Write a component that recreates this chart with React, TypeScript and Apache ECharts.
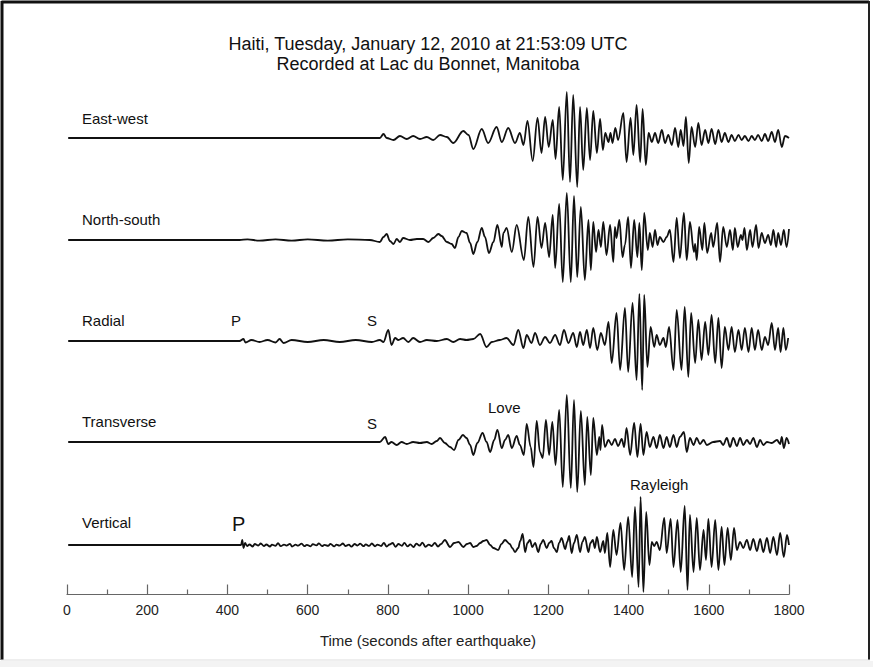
import React, { useEffect, useRef } from "react";
import * as echarts from "echarts";

const titleLines = ["Haiti, Tuesday, January 12, 2010 at 21:53:09 UTC", "Recorded at Lac du Bonnet, Manitoba"];
const traceNames = ["East-west", "North-south", "Radial", "Transverse", "Vertical"];
const axisTitle = "Time (seconds after earthquake)";

// [seconds after earthquake, relative amplitude]
const eastWest: [number, number][] = [
  [3, 0], [200, 0], [400, 0], [600, 0], [770, 0], [780, 0], [789, 4], [797, 0], [814, -2], [830, 2], [847, -1], [863, 2],
  [880, -1], [897, 1], [913, -2], [930, 3], [947, 1], [963, -5], [988, 7], [1001, 3], [1013, -11], [1034, 9], [1050, -5],
  [1071, 11], [1084, -4], [1100, 10], [1117, -5], [1129, 5], [1138, -7], [1148, 17], [1161, -23], [1173, 20], [1183, -15],
  [1192, 21], [1201, -9], [1211, 18], [1218, -21], [1227, 31], [1236, -42], [1246, 46], [1254, -44], [1262, 43], [1272, -49],
  [1279, 31], [1287, -32], [1296, 30], [1304, -22], [1312, 27], [1321, -15], [1329, 19], [1336, -12], [1342, 5], [1350, -4],
  [1355, 5], [1360, -5], [1367, 10], [1374, -2], [1387, 25], [1395, -24], [1405, 20], [1412, -17], [1420, 33], [1429, -24],
  [1435, 29], [1443, -27], [1450, 5], [1458, -4], [1466, 5], [1474, -5], [1483, 8], [1491, -5], [1499, 3], [1508, -7],
  [1516, 10], [1524, -9], [1530, 8], [1537, -8], [1543, 21], [1550, -25], [1557, 11], [1566, -9], [1574, 15], [1582, -7],
  [1591, 8], [1599, -5], [1607, 9], [1616, -6], [1624, 8], [1632, -4], [1640, 5], [1649, -4], [1657, 3], [1665, -3],
  [1674, 3], [1682, -2], [1690, 2], [1699, -3], [1707, 2], [1715, -2], [1723, 3], [1732, -3], [1740, 4], [1748, -3],
  [1757, 6], [1765, -4], [1773, 8], [1782, -9], [1790, 2], [1800, 0],
];

const northSouth: [number, number][] = [
  [3, 0], [430, 0], [450, 0.6], [480, -0.6], [520, 0.6], [560, -0.6], [600, 0.6], [650, -0.6], [700, 0.6], [755, 0], [780, -2], [789, 3],
  [797, 6], [805, -1], [814, -4], [822, 1], [830, -2], [838, 2], [855, 0], [872, 1], [888, 1], [901, -2], [913, 2], [926, 6],
  [934, 4], [947, -2], [959, -4], [967, -8], [976, 3], [984, 9], [996, 7], [1005, -3], [1013, -14], [1023, -2], [1034, 12],
  [1042, 3], [1052, -13], [1063, -2], [1073, 15], [1084, -7], [1088, 7], [1096, 12], [1109, -12], [1121, 15], [1139, -20],
  [1150, 23], [1163, -27], [1173, 23], [1183, -8], [1192, 17], [1202, -17], [1211, 25], [1217, -28], [1227, 36], [1236, -42],
  [1246, 47], [1256, -42], [1264, 44], [1272, -37], [1281, 33], [1291, -40], [1300, 20], [1306, -30], [1312, 18], [1319, -12],
  [1325, 10], [1331, -7], [1337, 18], [1345, -15], [1354, 15], [1362, -22], [1366, 13], [1370, 2], [1377, 20], [1385, -17],
  [1391, -5], [1399, 23], [1406, -28], [1414, 20], [1422, -17], [1427, 17], [1433, -30], [1439, 27], [1448, -10], [1453, 7],
  [1460, -7], [1466, 10], [1472, -5], [1478, 3], [1487, -2], [1495, 3], [1503, 10], [1512, -22], [1520, 22], [1528, -18],
  [1538, 27], [1545, -20], [1553, 18], [1563, -12], [1566, -4], [1570, -20], [1576, 13], [1584, -10], [1589, 17], [1596, -13],
  [1606, 7], [1611, -7], [1621, 17], [1628, -22], [1636, 13], [1645, -7], [1653, 10], [1660, -10], [1665, 12], [1672, -7],
  [1680, 5], [1684, 0], [1689, 12], [1695, -10], [1703, 10], [1709, -7], [1718, 15], [1724, -8], [1732, 7], [1740, -3],
  [1748, 5], [1755, -5], [1761, 10], [1768, -7], [1773, 7], [1780, -5], [1787, 10], [1794, -7], [1800, 11],
];

const radial: [number, number][] = [
  [3, 0], [430, 0], [440, 2], [445, -1.5], [460, 1], [480, -1], [500, 1], [520, -1.5], [530, 2], [540, -2], [560, 1],
  [600, -1], [640, 1], [680, -1], [720, 1], [760, -1], [780, 1], [789, -1], [801, 11], [809, -4], [818, 3], [826, 1],
  [838, 3], [851, -1], [863, 3], [880, -1], [897, 1], [922, 0], [947, 2], [963, -1], [980, 2], [996, 1], [1013, 2],
  [1030, 7], [1046, -6], [1059, -1], [1079, 1], [1096, 3], [1113, -4], [1125, 11], [1138, -7], [1146, 6], [1158, -2],
  [1167, 8], [1179, -4], [1192, 4], [1204, -2], [1217, 6], [1229, -4], [1239, 11], [1250, -2], [1262, 8], [1271, -6],
  [1279, 9], [1287, -4], [1296, 11], [1304, -7], [1312, 13], [1322, -9], [1331, 8], [1341, -4], [1350, 19], [1358, -22],
  [1370, 28], [1379, -29], [1391, 33], [1399, -31], [1410, 38], [1420, -39], [1427, 47], [1434, -49], [1439, 46], [1447, -26],
  [1455, 14], [1464, -6], [1470, 6], [1478, -4], [1487, 3], [1493, -6], [1501, 14], [1512, -29], [1520, 31], [1532, -29],
  [1540, 34], [1549, -36], [1556, 28], [1566, -22], [1574, 21], [1582, -19], [1591, 19], [1599, -14], [1607, 26], [1616, -22],
  [1624, 23], [1632, -27], [1640, 14], [1649, -9], [1657, 14], [1665, -11], [1674, 11], [1682, -9], [1690, 13], [1699, -11],
  [1707, 13], [1715, -9], [1723, 11], [1732, -9], [1740, 4], [1748, -4], [1757, 18], [1765, -9], [1773, 13], [1779, -11],
  [1786, 13], [1792, -9], [1798, 3],
];

const transverse: [number, number][] = [
  [3, 0], [400, 0], [600, 0], [780, 0], [793, 5], [801, -2], [809, 0], [822, -3], [834, 0], [847, -2], [863, 0], [880, -1],
  [897, 0], [909, -2], [922, 1], [930, 4], [942, -1], [955, -5], [965, -8], [976, 2], [987, 7], [996, 4], [1005, -3],
  [1013, -13], [1023, -1], [1036, 9], [1046, 0], [1055, -10], [1065, 2], [1073, 12], [1084, -6], [1092, 2], [1100, 7],
  [1109, -6], [1121, 6], [1129, -3], [1139, -13], [1146, 18], [1156, -5], [1163, -25], [1171, 21], [1179, -10], [1186, -16],
  [1194, 22], [1202, -13], [1210, 20], [1218, -23], [1227, 32], [1236, -45], [1246, 47], [1256, -46], [1264, 42], [1272, -50],
  [1281, 31], [1291, -43], [1297, 25], [1306, -33], [1312, 24], [1321, -13], [1327, 5], [1330, -8], [1334, 17], [1341, -5],
  [1350, 2], [1358, -3], [1366, 3], [1374, -4], [1383, 3], [1389, -5], [1395, 14], [1404, -13], [1414, 19], [1422, -15],
  [1430, 18], [1437, -13], [1445, 10], [1453, -5], [1462, 5], [1470, -6], [1478, 7], [1487, -6], [1495, 5], [1503, -5],
  [1512, 7], [1520, -5], [1528, 5], [1538, 10], [1545, -10], [1553, 4], [1562, -3], [1570, 4], [1578, -2], [1587, 2],
  [1595, -3], [1611, 0], [1628, 1], [1636, -3], [1645, 4], [1653, -5], [1661, 4], [1670, -4], [1678, 4], [1686, -3],
  [1695, 2], [1703, -2], [1711, 4], [1720, -5], [1728, 2], [1736, -3], [1745, 0], [1757, -1], [1770, 2], [1778, -2],
  [1782, 5], [1787, -6], [1794, 4], [1800, -2],
];

const vertical: [number, number][] = [
  [3, 0], [200, 0], [434, 0], [437, 5], [440, -3], [444, 2], [449, -1], [455, 0.5], [463, -1.5], [468, 1], [477, -0.5],
  [483, 1.5], [491, -1], [497, 0.5], [506, -1.5], [511, 0.3], [520, -0.8], [526, 1.8], [533, -1.2], [541, 0.4], [547, -0.6],
  [556, 1.2], [561, -1.6], [570, 0.3], [576, -0.7], [585, 1.4], [592, -1.2], [598, 0.2], [607, -1.3], [613, 0.9], [622, -0.4],
  [628, 1.6], [636, -1.1], [642, 0.2], [651, -0.9], [657, 1.1], [666, -1.4], [672, 0.4], [679, -0.6], [688, 1.5], [694, -1],
  [703, 0.3], [709, -1.7], [717, 1], [724, -0.5], [731, 1.3], [739, -1.2], [745, 0.6], [753, -0.9], [760, 1.5], [768, -1.3],
  [774, 0.4], [783, -1], [790, 2], [797, -1.5], [804, 0.5], [812, 2], [819, -1.8], [826, 1], [835, -0.8], [841, 2.2],
  [849, -1.4], [856, 0.6], [864, -2], [871, 1.4], [879, -0.6], [886, 2.3], [894, -1.8], [902, 0.4], [909, -1], [917, 2],
  [925, -1.5], [932, 0.8], [942, 5], [955, -2], [965, 2], [976, 3], [988, -2], [997, 1], [1005, 2], [1013, -2], [1021, -1],
  [1030, 2], [1038, 4], [1046, 5], [1055, 0], [1063, -3], [1075, -5], [1083, 1], [1092, 5], [1104, 1], [1110, -3],
  [1117, -7], [1125, -3], [1130, 4], [1136, 11], [1142, -7], [1148, 2], [1154, 5], [1160, -2], [1167, 2], [1175, -7],
  [1181, 1], [1187, 5], [1196, -3], [1202, 2], [1208, 4], [1214, -3], [1221, -7], [1227, 2], [1233, 7], [1242, -4],
  [1247, 3], [1252, 9], [1258, -8], [1264, 2], [1271, 10], [1279, -7], [1285, 3], [1291, 8], [1300, -7], [1305, 2],
  [1311, 5], [1316, -3], [1321, 8], [1329, -7], [1337, 4], [1341, -8], [1347, 12], [1354, -22], [1362, 15], [1370, -10],
  [1380, 22], [1389, -25], [1399, 28], [1409, -32], [1416, 38], [1425, -42], [1430, 48], [1437, -47], [1444, 33],
  [1452, -20], [1458, 3], [1464, -1], [1470, 3], [1478, -5], [1489, 27], [1495, -8], [1505, 26], [1512, -22], [1522, 25],
  [1530, -27], [1540, 39], [1547, -45], [1553, 30], [1562, -27], [1570, 27], [1578, -25], [1587, 15], [1593, -15],
  [1599, 26], [1607, -22], [1616, 25], [1624, -25], [1632, 18], [1639, -20], [1647, 17], [1655, -15], [1663, 17],
  [1670, -5], [1678, 3], [1686, -3], [1695, 5], [1703, -5], [1711, 6], [1720, -6], [1728, 6], [1736, -7], [1745, 7],
  [1753, -8], [1761, 8], [1770, -10], [1778, 12], [1787, -12], [1795, 10], [1800, 0],
];

const traces = [eastWest, northSouth, radial, transverse, vertical];

const FONT = "'Liberation Sans', Arial, Helvetica, sans-serif";

export default function App() {
  const ref = useRef<HTMLDivElement>(null);

  useEffect(() => {
    if (!ref.current) return;
    const chart = echarts.init(ref.current, null, { renderer: "svg" });
    const baselines = [138, 240, 341, 442, 545];
    const span = 60;
    const left = 67;
    const width = 722;

    const grids: any[] = baselines.map((b) => ({ left, width, top: b - span, height: span * 2 }));
    grids.push({ left, width, top: 594, height: 1 });

    const xAxes: any[] = baselines.map((_, i) => ({
      type: "value", gridIndex: i, min: 0, max: 1800, show: false,
    }));
    xAxes.push({
      type: "value", gridIndex: 5, min: 0, max: 1800, interval: 200, position: "bottom",
      axisLine: { show: true, lineStyle: { color: "#666", width: 1.2 } },
      axisTick: { show: true, inside: true, length: 10, lineStyle: { color: "#666", width: 1.2 } },
      minorTick: { show: true, splitNumber: 2, length: 5, lineStyle: { color: "#666", width: 1.2 } },
      splitLine: { show: false },
      axisLabel: {
        fontSize: 14, color: "#222", margin: 8, fontFamily: FONT,
        formatter: (v: number) => String(v),
      },
      name: axisTitle, nameLocation: "middle", nameGap: 38,
      nameTextStyle: { fontSize: 15, color: "#222", fontFamily: FONT },
    });
    const yAxes: any[] = grids.map((_, i) => ({
      type: "value", gridIndex: i, min: -span, max: span, show: false,
    }));

    const series: any[] = traces.map((d, i) => ({
      type: "line", xAxisIndex: i, yAxisIndex: i, data: d, showSymbol: false, clip: false,
      smooth: 0.35, smoothMonotone: "x",
      lineStyle: { color: "#111", width: 1.8, join: "round" }, silent: true,
    }));
    series.push({ type: "line", xAxisIndex: 5, yAxisIndex: 5, data: [], showSymbol: false });

    const txt = (text: string, x: number, y: number, size: number, align = "left") => ({
      type: "text", x, y, silent: true,
      style: { text, font: `${size}px ${FONT}`, fill: "#111", textAlign: align, textVerticalAlign: "middle" },
    });

    const labelY = [118, 219, 320, 421, 522];
    const graphic: any[] = [
      { type: "rect", shape: { x: 0, y: 661, width: 873, height: 6 }, style: { fill: "#f3f3f3" }, silent: true },
      { type: "line", shape: { x1: 1.5, y1: 2, x2: 869, y2: 2 }, style: { stroke: "#111", lineWidth: 3 }, silent: true },
      { type: "line", shape: { x1: 2, y1: 1, x2: 2, y2: 660 }, style: { stroke: "#111", lineWidth: 3 }, silent: true },
      { type: "line", shape: { x1: 869, y1: 1, x2: 869, y2: 660 }, style: { stroke: "#222", lineWidth: 2 }, silent: true },
      { type: "line", shape: { x1: 1, y1: 660, x2: 870, y2: 660 }, style: { stroke: "#ddd", lineWidth: 1 }, silent: true },
      txt(titleLines[0], 428, 44, 18, "center"),
      txt(titleLines[1], 428, 64, 18, "center"),
      ...traceNames.map((n, i) => txt(n, 82, labelY[i], 15)),
      txt("P", 231, 320, 15),
      txt("S", 367, 320, 15),
      txt("S", 367, 423, 15),
      txt("Love", 488, 407, 15),
      txt("Rayleigh", 630, 484, 15),
      txt("P", 232, 524, 20),
    ];

    chart.setOption({
      animation: false,
      backgroundColor: "#fff",
      grid: grids,
      xAxis: xAxes,
      yAxis: yAxes,
      series,
      graphic,
    });
    return () => chart.dispose();
  }, []);

  return (
    <div
      ref={ref}
      style={{ position: "fixed", left: 0, top: 0, width: 873, height: 667, background: "#fff" }}
    />
  );
}
